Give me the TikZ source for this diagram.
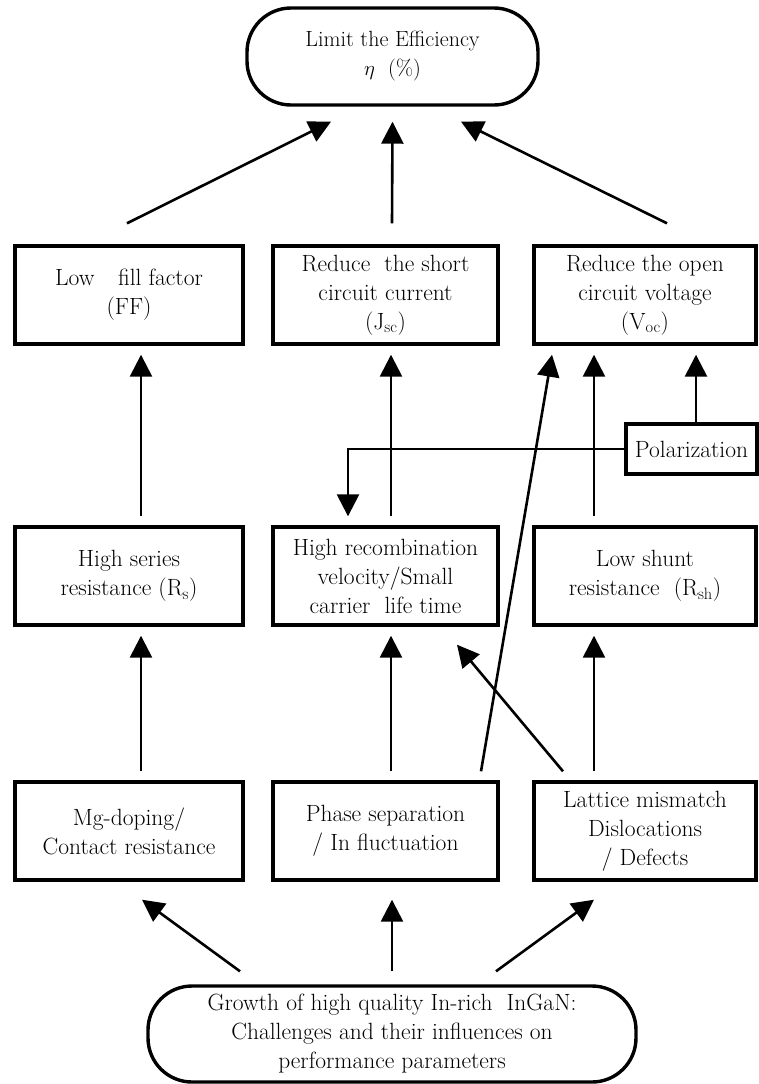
\documentclass[tikz,border=0pt]{standalone}
\usetikzlibrary{arrows.meta}
\begin{document}
\begin{tikzpicture}[x=1pt,y=-1pt,
  every node/.style={font=\fontsize{23.5}{29}\selectfont, align=center, inner sep=0pt},
  box/.style={draw, line width=3.4pt, minimum width=#1, minimum height=98pt},
  term/.style={draw, line width=3.4pt, rounded corners=44pt},
  arr/.style={line width=2.6pt, -{Triangle[width=22pt,length=22pt]}}]
\useasboundingbox (0,0) rectangle (758,1084);
% top terminator
\node[term, minimum width=291pt, minimum height=97pt, font=\fontsize{22}{29}\selectfont] (eff) at (392.5,56.5) {Limit the Efficiency\\$\eta$\ \ (\%)};
% row 1
\node[box=228pt] (ff) at (129,295) {Low\hspace{0.7em} fill factor\\(FF)};
\node[box=225pt] (jsc) at (385.5,295) {Reduce\ \ the short\\circuit current\\(J\textsubscript{sc})};
\node[box=222pt] (voc) at (645,295) {Reduce the open\\circuit voltage\\(V\textsubscript{oc})};
% polarization
\node[draw, line width=3.4pt, minimum width=131pt, minimum height=50pt] (pol) at (691.5,449) {Polarization};
% row 2
\node[box=228pt] (rs) at (129,576) {High series\\resistance (R\textsubscript{s})};
\node[box=225pt] (rec) at (385.5,576) {High recombination\\velocity/Small\\carrier\ \ life time};
\node[box=222pt] (rsh) at (645,576) {Low shunt\\resistance\ \ (R\textsubscript{sh})};
% row 3
\node[box=228pt] (mg) at (129,831) {Mg-doping/\\Contact resistance};
\node[box=225pt] (ph) at (385.5,831) {Phase separation\\/ In fluctuation};
\node[box=222pt] (lat) at (645,831) {Lattice mismatch\\Dislocations\\/ Defects};
% bottom terminator
\node[term, minimum width=488pt, minimum height=96pt] (grow) at (392,1034) {Growth of high quality In-rich\ \ InGaN:\\Challenges and their influences on\\performance parameters};
% arrows to top
\draw[arr] ([xshift=-2pt,yshift=21pt]ff.north) -- ([xshift=-61.5pt,yshift=-15pt]eff.south);
\draw[arr] ([xshift=6.5pt,yshift=21pt]jsc.north) -- ([yshift=-15pt]eff.south);
\draw[arr] ([xshift=22pt,yshift=21pt]voc.north) -- ([xshift=68.5pt,yshift=-15pt]eff.south);
% row 2 -> row 1
\draw[arr] ([xshift=12pt,yshift=9pt]rs.north) -- ([xshift=12pt,yshift=-9pt]ff.south);
\draw[arr] ([xshift=5.5pt,yshift=9pt]rec.north) -- ([xshift=5.5pt,yshift=-9pt]jsc.south);
\draw[arr] ([xshift=-51pt,yshift=9pt]rsh.north) -- ([xshift=-51pt,yshift=-9pt]voc.south);
\draw[arr] ([xshift=4.5pt]pol.north) -- ([xshift=51pt,yshift=-9pt]voc.south);
\draw[arr] (pol.west) -| ([xshift=-37.5pt,yshift=9pt]rec.north);
% row 3 -> row 2
\draw[arr] ([xshift=12pt,yshift=9pt]mg.north) -- ([xshift=12pt,yshift=-9pt]rs.south);
\draw[arr] ([xshift=5.5pt,yshift=9pt]ph.north) -- ([xshift=5.5pt,yshift=-9pt]rec.south);
\draw[arr] ([xshift=-51pt,yshift=9pt]lat.north) -- ([xshift=-51pt,yshift=-9pt]rsh.south);
\draw[arr] ([xshift=95.5pt,yshift=9pt]ph.north) -- ([xshift=-93pt,yshift=-9pt]voc.south);
\draw[arr] ([xshift=-82pt,yshift=9pt]lat.north) -- ([xshift=71.5pt,yshift=-18pt]rec.south);
% bottom -> row 3
\draw[arr] ([xshift=-152pt,yshift=13pt]grow.north) -- ([xshift=13pt,yshift=-18pt]mg.south);
\draw[arr] ([yshift=13pt]grow.north) -- ([xshift=6.5pt,yshift=-18pt]ph.south);
\draw[arr] ([xshift=104pt,yshift=13pt]grow.north) -- ([xshift=-51pt,yshift=-18pt]lat.south);
\end{tikzpicture}
\end{document}
